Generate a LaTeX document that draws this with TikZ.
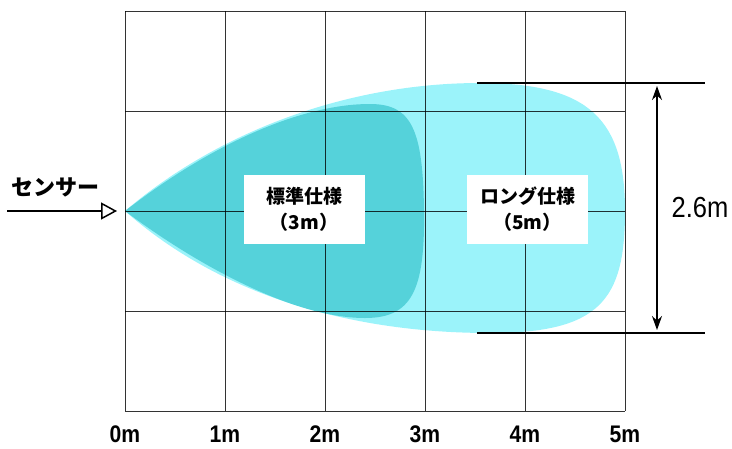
\documentclass[tikz,border=0pt]{standalone}
\usepackage{fontspec}
\setmainfont{Liberation Sans}
\newfontfamily\narrowsans{Liberation Sans}[FakeStretch=0.88]
\newfontfamily\jp{Noto Sans CJK JP}
\usetikzlibrary{arrows.meta}
\definecolor{longcyan}{RGB}{155,243,250}
\definecolor{stdcyan}{RGB}{85,210,218}

\begin{document}
\begin{tikzpicture}[x=1pt,y=-1pt,
    gridline/.style={black,opacity=0.8,line width=1pt},
    extline/.style={black,line width=1.2pt},
    scalelabel/.style={font=\narrowsans\bfseries\fontsize{24}{24}\selectfont,inner sep=0pt},
    specbox/.style={fill=white,inner sep=0pt,minimum width=121pt,minimum height=69pt,
      align=center,font=\jp\bfseries\fontsize{19}{26}\selectfont}]
  \useasboundingbox (0,0) rectangle (732,448);
  \coordinate (O) at (125,211);

  % detection areas
  \fill[longcyan] (O) .. controls (220,130) and (350,83) .. (480,83)
    .. controls (590,83) and (625,120) .. (625,211)
    .. controls (625,300) and (600,333) .. (490,333)
    .. controls (350,333) and (220,295) .. (O) -- cycle;
  \fill[stdcyan] (O) .. controls (210,145) and (300,104) .. (370,104)
    .. controls (412,104) and (423,130) .. (424,211)
    .. controls (425,290) and (412,318) .. (365,318)
    .. controls (290,318) and (190,260) .. (O) -- cycle;

  % grid
  \foreach \i in {0,...,5}
    \draw[gridline] (125+100*\i,11) -- (125+100*\i,411);
  \foreach \j in {0,...,4}
    \draw[gridline] (125,11+100*\j) -- (625,11+100*\j);
  \foreach \i in {0,...,5}
    \node[scalelabel] (m\i) at (125+100*\i,434) {\i m};

  \node[specbox] (std) at (304,209.5) {標準仕様\\（3m）};
  \node[specbox] (long) at (527.5,209.5) {ロング仕様\\（5m）};

  % sensor
  \coordinate (s0) at (7,211);
  \node[font=\jp\bfseries\fontsize{22}{22}\selectfont,inner sep=0pt] (sensor) at (56,187) {センサー};
  \draw[line width=1.5pt,-{Triangle[open,length=16pt,width=17pt,line width=1.5pt]},shorten >=8pt] (s0) -- (O);

  % 2.6m
  \coordinate (e1) at (477,83);
  \coordinate (e2) at (705,83);
  \coordinate (e3) at (477,333);
  \coordinate (e4) at (705,333);
  \draw[extline] (e1) -- (e2);
  \draw[extline] (e3) -- (e4);
  \coordinate (d1) at (657,83);
  \coordinate (d2) at (657,333);
  \draw[line width=1.5pt,{Stealth[length=14pt,width=10pt]}-{Stealth[length=14pt,width=10pt]},shorten <=3pt,shorten >=3pt] (d1) -- (d2);
  \node[font=\narrowsans\fontsize{29}{29}\selectfont,inner sep=0pt] (dim) at (700,208) {2.6m};
\end{tikzpicture}
\end{document}
